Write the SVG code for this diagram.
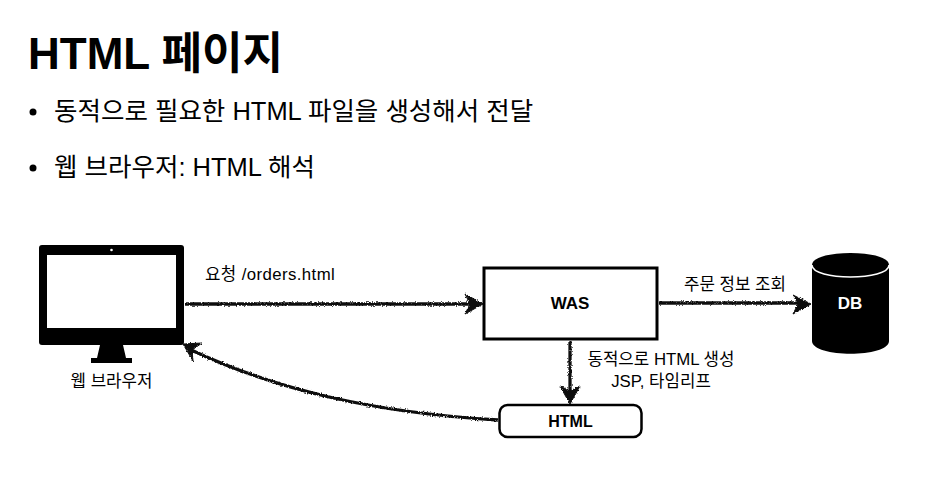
<svg xmlns="http://www.w3.org/2000/svg" width="932" height="501" viewBox="0 0 932 501">
<style>
text{font-family:"Liberation Sans","Noto Sans CJK KR",sans-serif;fill:#000}
.b{font-size:25.500px}
.l{font-size:16.800px}
.c{stroke:#111;stroke-width:3.300;fill:none}
.h{fill:#111;stroke:#111;stroke-width:1;stroke-linejoin:round}
</style>
<defs>
<filter id="rough" x="-5%" y="-30%" width="110%" height="160%" filterUnits="objectBoundingBox">
<feTurbulence type="fractalNoise" baseFrequency="0.8" numOctaves="2" seed="3"/>
<feDisplacementMap in="SourceGraphic" scale="3" xChannelSelector="R" yChannelSelector="G"/>
</filter>
</defs>
<rect width="932" height="501" fill="#fff"/>
<g id="title"><text x="28" y="69" font-size="44" font-weight="700">HTML 페이지</text></g>
<g id="bullets">
<circle cx="33" cy="112" r="3.500"/><text class="b" x="54" y="120">동적으로 필요한 HTML 파일을 생성해서 전달</text>
<circle cx="33" cy="168" r="3.500"/><text class="b" x="54" y="176">웹 브라우저: HTML 해석</text>
</g>
<g id="connectors" filter="url(#rough)">
<path class="c" d="M185 304H476"/>
<path class="h" d="M483 304L465 294L470 304L465 314Z"/>
<path class="c" d="M659 303H804"/>
<path class="h" d="M811 304L793 295L798 304L793 314Z"/>
<path class="c" d="M570 341V397"/>
<path class="h" d="M570 404L560 386L570 391L580 386Z"/>
<path class="c" d="M498 420C380 413 280 392 189 349"/>
<path class="h" d="M183 344L202 343L192 350L193 361Z"/>
</g>
<g id="browser">
<rect x="39" y="245" width="145" height="100" rx="3" fill="#000"/>
<rect x="47" y="255" width="129" height="73" fill="#fff"/>
<circle cx="111.500" cy="250" r="1.300" fill="#fff"/>
<path d="M100 345H123L126 358H132V363H91V358H97Z" fill="#000"/>
<text class="l" x="111.500" y="387" text-anchor="middle">웹 브라우저</text>
</g>
<g id="was">
<rect x="484" y="268" width="173" height="71" fill="#fff" stroke="#000" stroke-width="3"/>
<text x="570" y="309" font-size="17" font-weight="700" text-anchor="middle">WAS</text>
</g>
<g id="html">
<rect x="499.500" y="405" width="142" height="32" rx="8" fill="#fff" stroke="#000" stroke-width="2.500"/>
<text x="570.500" y="427" font-size="16" font-weight="700" text-anchor="middle">HTML</text>
</g>
<g id="db">
<path d="M812 265C812 249 889 249 889 265V341C889 358 812 358 812 341Z" fill="#000"/>
<path d="M812 265C812 281 889 281 889 265" fill="none" stroke="#fff" stroke-width="1.500"/>
<text x="850" y="309" font-size="17" font-weight="700" text-anchor="middle" style="fill:#fff">DB</text>
</g>
<g id="labels">
<text class="l" x="205" y="280" letter-spacing="0.400">요청 /orders.html</text>
<text class="l" x="684" y="290">주문 정보 조회</text>
<text class="l" x="661" y="365" text-anchor="middle">동적으로 HTML 생성</text>
<text class="l" x="661" y="387" text-anchor="middle">JSP, 타임리프</text>
</g>
</svg>
